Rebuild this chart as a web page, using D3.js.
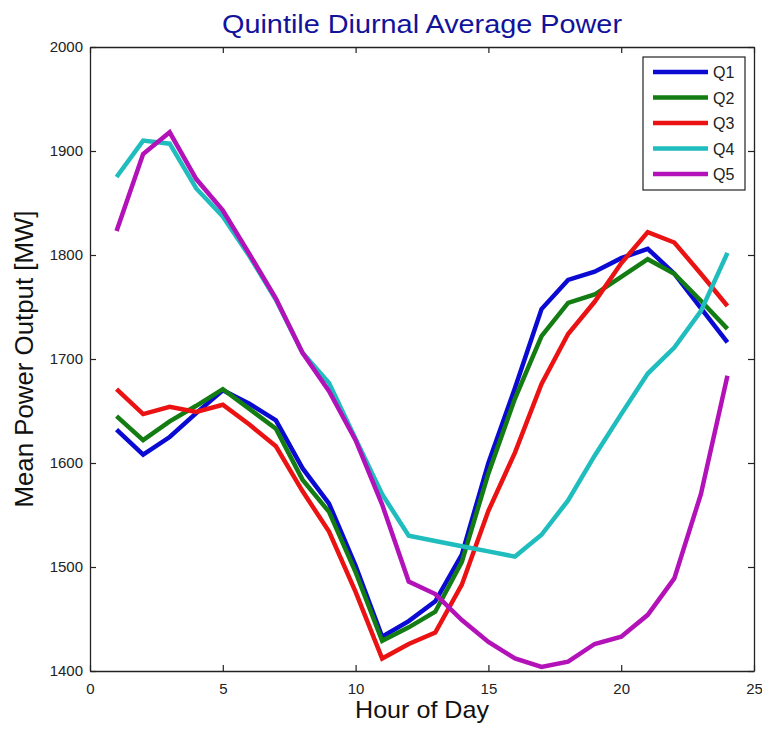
<!DOCTYPE html>
<html>
<head>
<meta charset="utf-8">
<script src="https://cdn.jsdelivr.net/npm/d3@7"></script>
<style>
  body { margin: 0; background: #fff; }
  svg { display: block; font-family: "Liberation Sans", Arial, sans-serif; }
</style>
</head>
<body>
<svg id="chart" width="762" height="730"></svg>
<script>
const hours = d3.range(1, 25);
const seriesNames = ["Q1", "Q2", "Q3", "Q4", "Q5"];
const seriesColors = ["#0a0ad2", "#137c13", "#ea1212", "#1fbdbd", "#b312b8"];

const q1 = [1632, 1608, 1625, 1648, 1670, 1657, 1641, 1595, 1561, 1501, 1433, 1448, 1467, 1512, 1600, 1672, 1748, 1776, 1784, 1797, 1806, 1782, 1749, 1716];
const q2 = [1645, 1622, 1640, 1655, 1671, 1652, 1633, 1584, 1553, 1495, 1429, 1442, 1457, 1505, 1590, 1662, 1722, 1754, 1762, 1779, 1796, 1782, 1756, 1729];
const q3 = [1671, 1647, 1654, 1649, 1656, 1637, 1616, 1573, 1534, 1476, 1412, 1426, 1437, 1483, 1554, 1610, 1676, 1724, 1755, 1792, 1822, 1812, 1782, 1751];
const q4 = [1875, 1910, 1907, 1864, 1837, 1799, 1757, 1706, 1677, 1623, 1570, 1530, 1525, 1520, 1515, 1510, 1531, 1564, 1607, 1647, 1686, 1711, 1746, 1802];
const q5 = [1823, 1897, 1918, 1873, 1843, 1801, 1758, 1706, 1669, 1622, 1560, 1486, 1474, 1449, 1428, 1412, 1404, 1409, 1426, 1433, 1454, 1489, 1570, 1684];
const seriesValues = [q1, q2, q3, q4, q5];

const xTicks = [0, 5, 10, 15, 20, 25];
const yTicks = [1400, 1500, 1600, 1700, 1800, 1900, 2000];

(function drawChart() {
  const svg = d3.select("#chart");
  const margin = { top: 47, right: 8, bottom: 59, left: 90 };
  const width = 762, height = 730;
  const innerWidth = width - margin.left - margin.right;
  const innerHeight = height - margin.top - margin.bottom;

  svg.append("rect").attr("width", width).attr("height", height).attr("fill", "#fff");

  const g = svg.append("g").attr("transform", `translate(${margin.left},${margin.top})`);

  const x = d3.scaleLinear().domain([0, 25]).range([0, innerWidth]);
  const y = d3.scaleLinear().domain([1400, 2000]).range([innerHeight, 0]);

  // lines
  const line = d3.line()
    .x((d, i) => x(hours[i]))
    .y(d => y(d));

  seriesValues.forEach((vals, i) => {
    g.append("path")
      .datum(vals)
      .attr("fill", "none")
      .attr("stroke", seriesColors[i])
      .attr("stroke-width", 4.5)
      .attr("d", line);
  });

  // axes, MATLAB style box with inward ticks
  const tick = 6;
  const axisStyle = sel => {
    sel.selectAll(".domain").attr("stroke", "#222").attr("stroke-width", 1.3);
    sel.selectAll(".tick line").attr("stroke", "#222").attr("stroke-width", 1.2);
    sel.selectAll(".tick text").attr("fill", "#222").style("font-size", "15px");
  };

  g.append("g")
    .attr("transform", `translate(0,${innerHeight})`)
    .call(d3.axisBottom(x).tickValues(xTicks).tickSizeInner(-tick).tickSizeOuter(0).tickPadding(12).tickFormat(d3.format("d")))
    .call(axisStyle);

  g.append("g")
    .call(d3.axisLeft(y).tickValues(yTicks).tickSizeInner(-tick).tickSizeOuter(0).tickPadding(7).tickFormat(d3.format("d")))
    .call(axisStyle);

  const topAxis = g.append("g")
    .call(d3.axisTop(x).tickValues(xTicks).tickSizeInner(-tick).tickSizeOuter(0))
    .call(axisStyle);
  topAxis.selectAll(".tick text").remove();

  const rightAxis = g.append("g")
    .attr("transform", `translate(${innerWidth},0)`)
    .call(d3.axisRight(y).tickValues(yTicks).tickSizeInner(-tick).tickSizeOuter(0))
    .call(axisStyle);
  rightAxis.selectAll(".tick text").remove();

  // title and axis labels
  svg.append("text")
    .attr("x", margin.left + innerWidth / 2)
    .attr("y", 33)
    .attr("text-anchor", "middle")
    .attr("fill", "#12129a")
    .attr("textLength", 400)
    .attr("lengthAdjust", "spacingAndGlyphs")
    .style("font-size", "25px")
    .text("Quintile Diurnal Average Power");

  svg.append("text")
    .attr("x", margin.left + innerWidth / 2)
    .attr("y", 718)
    .attr("text-anchor", "middle")
    .attr("fill", "#111")
    .attr("textLength", 134)
    .attr("lengthAdjust", "spacingAndGlyphs")
    .style("font-size", "24px")
    .text("Hour of Day");

  svg.append("text")
    .attr("transform", "rotate(-90)")
    .attr("x", -(margin.top + innerHeight / 2))
    .attr("y", 33)
    .attr("text-anchor", "middle")
    .attr("fill", "#111")
    .attr("textLength", 297)
    .attr("lengthAdjust", "spacingAndGlyphs")
    .style("font-size", "25px")
    .text("Mean Power Output [MW]");

  // legend
  const legend = svg.append("g").attr("transform", "translate(643,57)");
  legend.append("rect")
    .attr("width", 102)
    .attr("height", 133)
    .attr("fill", "#fff")
    .attr("stroke", "#222")
    .attr("stroke-width", 1.2);

  seriesNames.forEach((name, i) => {
    const item = legend.append("g").attr("transform", `translate(0,${15 + i * 25.5})`);
    item.append("line")
      .attr("x1", 10).attr("x2", 65)
      .attr("stroke", seriesColors[i])
      .attr("stroke-width", 4.5);
    item.append("text")
      .attr("x", 70)
      .attr("y", 6)
      .attr("fill", "#222")
      .style("font-size", "16px")
      .text(name);
  });
})();
</script>
</body>
</html>
